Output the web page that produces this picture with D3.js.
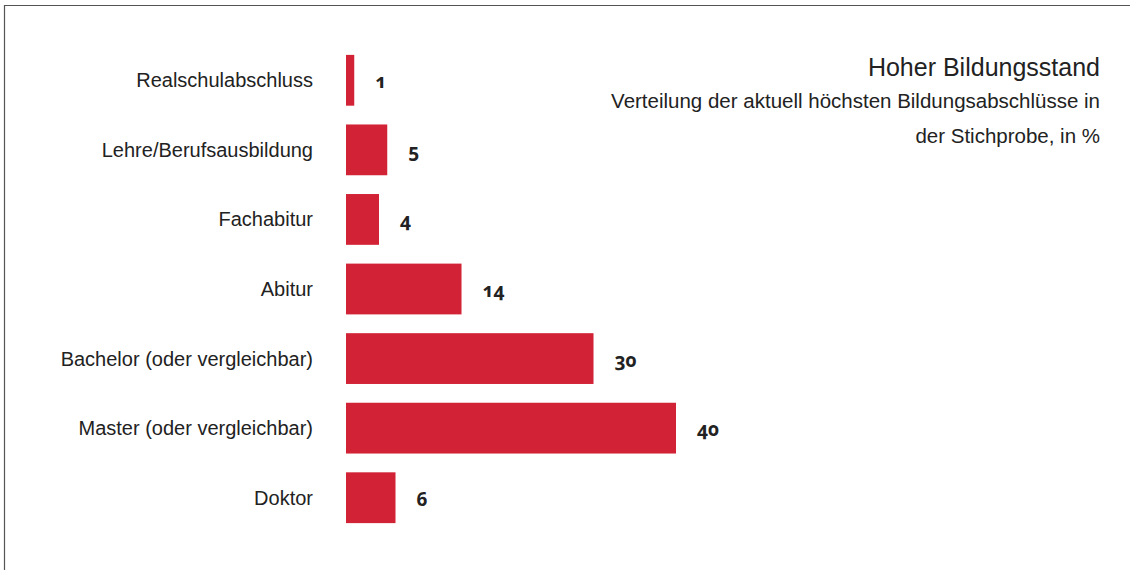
<!DOCTYPE html>
<html>
<head>
<meta charset="utf-8">
<script src="https://cdn.jsdelivr.net/npm/d3@7"></script>
<style>
  body { margin: 0; background: #fff; }
  svg text { font-family: "Liberation Sans", sans-serif; fill: #222; }
</style>
</head>
<body>
<svg id="chart" width="1130" height="570"></svg>
<script>
// categories and shares (percent)
const categories = [
  "Realschulabschluss",
  "Lehre/Berufsausbildung",
  "Fachabitur",
  "Abitur",
  "Bachelor (oder vergleichbar)",
  "Master (oder vergleichbar)",
  "Doktor"
];
const values = [1, 5, 4, 14, 30, 40, 6];
const titleLines = ["Hoher Bildungsstand"];
const subtitleLines = ["Verteilung der aktuell höchsten Bildungsabschlüsse in", "der Stichprobe, in %"];

const svg = d3.select("#chart");
const red = "#d22235";

// frame: only top and left edges are visible
svg.append("path")
  .attr("d", "M4.5,570 V5.5 H1130")
  .attr("fill", "none").attr("stroke", "#555").attr("stroke-width", 1.2);

const x = d3.scaleLinear().domain([0, 40]).range([346, 676]);
const y = d3.scaleBand().domain(categories).range([45.5, 532.5]).paddingInner(0.27).paddingOuter(0.135);

const data = categories.map((c, i) => ({c, v: values[i]}));

svg.selectAll("rect.bar").data(data).join("rect")
  .attr("class", "bar")
  .attr("x", x(0))
  .attr("y", d => y(d.c))
  .attr("width", d => x(d.v) - x(0))
  .attr("height", y.bandwidth())
  .attr("fill", red);

svg.selectAll("text.cat").data(data).join("text")
  .attr("class", "cat")
  .attr("x", 313)
  .attr("y", d => y(d.c) + y.bandwidth() / 2 + 7)
  .attr("text-anchor", "end")
  .style("font-size", "20px")
  .text(d => d.c);

svg.selectAll("text.val").data(data).join("text")
  .attr("class", "val")
  .attr("x", d => x(d.v) + 21)
  .attr("y", d => y(d.c) + y.bandwidth() / 2 + 8)
  .style("font-family", "'Noto Sans', sans-serif")
  .style("font-variant-numeric", "oldstyle-nums")
  .style("font-weight", "bold")
  .style("font-size", "19px")
  .text(d => d.v);

svg.selectAll("text.title").data(titleLines).join("text")
  .attr("class", "title")
  .attr("x", 1100).attr("y", 76)
  .attr("text-anchor", "end")
  .style("font-size", "25px")
  .text(d => d);

svg.selectAll("text.sub").data(subtitleLines).join("text")
  .attr("class", "sub")
  .attr("x", 1100).attr("y", (d, i) => 108 + i * 34.5)
  .attr("text-anchor", "end")
  .style("font-size", "20.5px")
  .text(d => d);
</script>
</body>
</html>
